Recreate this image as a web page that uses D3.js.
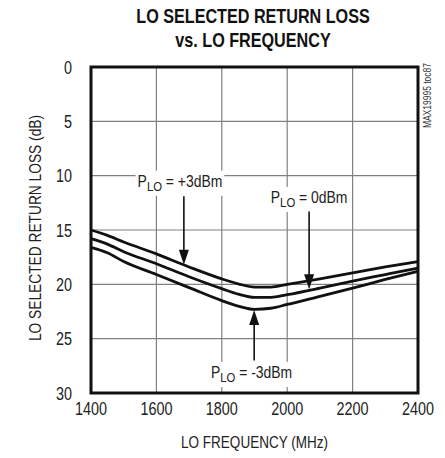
<!DOCTYPE html>
<html><head><meta charset="utf-8">
<script src="https://cdn.jsdelivr.net/npm/d3@7"></script>
<style>
body{margin:0;background:#fff;}
text{font-family:"Liberation Sans",Arial,sans-serif;}
</style></head>
<body><svg id="c" width="445" height="458"></svg>
<script>
const freqs = [1400,1450,1500,1600,1700,1800,1850,1900,1950,2000,2100,2200,2300,2400];
const plus3 = [15.0,15.5,16.1,17.2,18.4,19.5,19.95,20.25,20.25,20.0,19.5,18.95,18.4,17.9];
const zero  = [15.8,16.3,17.0,18.1,19.3,20.4,20.9,21.2,21.2,20.95,20.35,19.7,19.1,18.5];
const minus3= [16.6,17.1,17.9,19.1,20.3,21.5,22.0,22.3,22.2,21.85,21.1,20.35,19.55,18.8];
const xTicks = [1400,1600,1800,2000,2200,2400];
const yTicks = [0,5,10,15,20,25,30];
const title = ["LO SELECTED RETURN LOSS","vs. LO FREQUENCY"];
const xTitle = "LO FREQUENCY (MHz)";
const yTitle = "LO SELECTED RETURN LOSS (dB)";
const labelText = ["+3dBm","0dBm","-3dBm"];
const labelPos = [[1672,11.0],[2067,12.5],[1891,28.6]];
const arrows = [[1684,11.9,18.2],[2067,13.3,20.45],[1899,27.0,22.36]];

const svg = d3.select("#c");
const L=91, R=418, T=67, B=393;
const x = d3.scaleLinear().domain([1400,2400]).range([L,R]);
const y = d3.scaleLinear().domain([0,30]).range([T,B]);

function ctext(parent, px, py, opts){
  const outer = parent.append("g");
  const inner = outer.append("g")
    .attr("transform",`translate(${px},${py}) rotate(${opts.rot||0}) scale(${opts.sx||0.82},1)`);
  const t = inner.append("text").attr("x",0).attr("y",0)
    .attr("text-anchor",opts.anchor||"middle")
    .attr("font-size",opts.size||16)
    .attr("font-weight",opts.weight||"normal")
    .attr("fill",opts.fill||"#222");
  if(opts.text!==undefined) t.text(opts.text);
  return {outer,t};
}

// grid
const g = svg.append("g");
g.selectAll(".vg").data(xTicks.slice(1,-1)).join("line")
  .attr("x1",d=>x(d)).attr("x2",d=>x(d)).attr("y1",T).attr("y2",B)
  .attr("stroke","#808080").attr("stroke-width",1.2);
g.selectAll(".hg").data(yTicks.slice(1,-1)).join("line")
  .attr("x1",L).attr("x2",R).attr("y1",d=>y(d)).attr("y2",d=>y(d))
  .attr("stroke","#808080").attr("stroke-width",1.2);

// curves
const line = d3.line().x((d,i)=>x(freqs[i])).y(d=>y(d)).curve(d3.curveMonotoneX);
[plus3,zero,minus3].forEach(s=>{
  svg.append("path").attr("d",line(s)).attr("fill","none")
    .attr("stroke","#111").attr("stroke-width",2.8);
});

// labels with white backgrounds
labelText.forEach((lt,i)=>{
  const [f,v] = labelPos[i];
  const {outer,t} = ctext(svg, x(f), y(v), {size:16, sx:0.87});
  t.append("tspan").text("P");
  t.append("tspan").text("LO").attr("font-size",13).attr("dy",4);
  t.append("tspan").text(" = "+lt).attr("dy",-4);
  const bb = outer.node().getBBox();
  outer.insert("rect",":first-child").attr("x",bb.x-2).attr("y",bb.y-1)
    .attr("width",bb.width+4).attr("height",bb.height+3).attr("fill","#fff");
});

// arrows
arrows.forEach(([f,from,to])=>{
  const ax = x(f), y0 = y(from), y1 = y(to);
  const dir = y1>y0?1:-1;
  svg.append("line").attr("x1",ax).attr("x2",ax).attr("y1",y0).attr("y2",y1-dir*12)
    .attr("stroke","#111").attr("stroke-width",1.6);
  svg.append("path").attr("d",`M${ax-5},${y1-dir*15}L${ax+5},${y1-dir*15}L${ax},${y1}Z`)
    .attr("fill","#111");
});

// frame
svg.append("rect").attr("x",L).attr("y",T).attr("width",R-L).attr("height",B-T)
  .attr("fill","none").attr("stroke","#111").attr("stroke-width",3);

// tick labels
xTicks.forEach(d=>ctext(svg, x(d), B+22, {text:d, size:18, sx:0.8}));
yTicks.forEach(d=>ctext(svg, 72, y(d)+6.5, {text:d, size:18, sx:0.8, anchor:"end"}));

// axis titles
ctext(svg, (L+R)/2, 448, {text:xTitle, size:16, sx:0.845});
ctext(svg, 41, (T+B)/2 - 2, {text:yTitle, size:16, sx:0.86, rot:-90});

// title
title.forEach((d,i)=>ctext(svg, 253, 23+i*24, {text:d, size:21, sx:0.77, weight:"bold", fill:"#111"}));

// side code
ctext(svg, 431, 63, {text:"MAX19995 toc87", size:10, sx:0.85, rot:-90, anchor:"end", fill:"#333"});
</script></body></html>
